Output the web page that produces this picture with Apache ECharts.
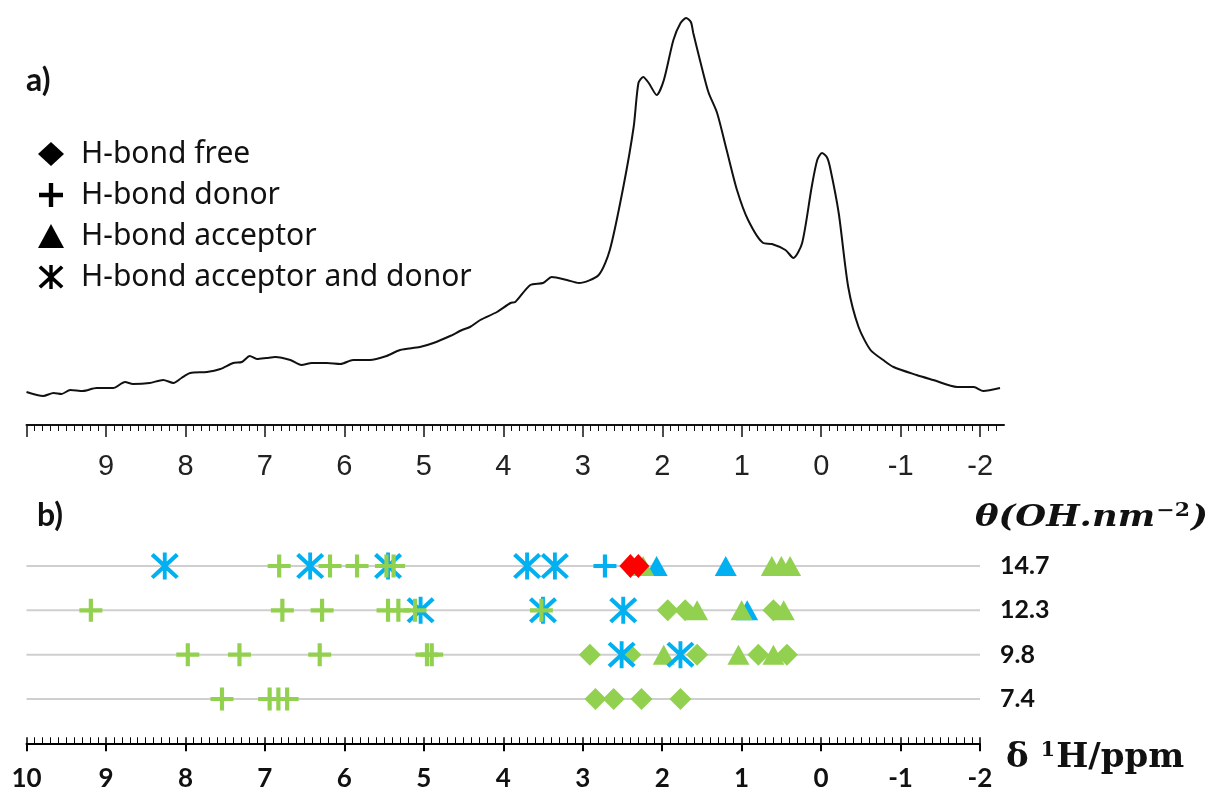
<!DOCTYPE html>
<html>
<head>
<meta charset="utf-8">
<script src="https://cdn.jsdelivr.net/npm/echarts@6/dist/echarts.min.js"></script>
<style>
  html, body { margin: 0; padding: 0; background: #ffffff; }
  #chart { width: 1220px; height: 798px; }
</style>
</head>
<body>
<div id="chart"></div>
<script>
// ---- a) 1H MAS NMR spectrum: chemical shift (ppm) and intensity ----
const spectrumPpm = [
  10.00, 9.79, 9.66, 9.56, 9.45, 9.29, 9.12, 8.91, 8.76, 8.66, 8.45, 8.28, 8.15, 8.05,
  7.94, 7.73, 7.56, 7.40, 7.29, 7.19, 7.10, 6.98, 6.87, 6.68, 6.54, 6.41, 6.22, 6.05,
  5.89, 5.68, 5.47, 5.30, 5.05, 4.88, 4.67, 4.52, 4.42, 4.29, 4.08, 3.91, 3.85, 3.66,
  3.50, 3.39, 3.20, 3.05, 2.80, 2.66, 2.49, 2.36, 2.30, 2.24, 2.17, 2.07, 1.98, 1.86,
  1.77, 1.70, 1.64, 1.61, 1.52, 1.42, 1.31, 1.19, 1.06, 0.92, 0.73, 0.62, 0.45, 0.35,
  0.24, 0.12, 0.05, -0.01, -0.07, -0.11, -0.22, -0.34, -0.47, -0.62, -0.78, -0.91,
  -1.20, -1.41, -1.71, -1.92, -2.04, -2.25
];
const spectrumIntensity = [
  33, 29, 32, 31, 35, 34, 37, 37, 43, 41, 42, 45, 42, 47,
  52, 53, 56, 62, 63, 69, 66, 67, 68, 65, 60, 62, 62, 61,
  65, 65, 69, 75, 78, 82, 89, 95, 98, 105, 113, 122, 123, 140,
  142, 148, 145, 142, 150, 175, 238, 298, 342, 348, 342, 330, 345, 385,
  402, 407, 403, 392, 363, 333, 312, 275, 235, 205, 182, 181, 175, 167,
  182, 238, 265, 272, 268, 258, 212, 138, 98, 75, 65, 58,
  50, 45, 38, 38, 34, 37
];

// ---- b) computed shifts per OH coverage (rows listed bottom to top) ----
const thetaLabels = ['7.4', '9.8', '12.3', '14.7'];
const greenFree     = [[2.84, 2.61, 2.26, 1.77], [2.91, 2.40, 1.56, 0.79, 0.43], [1.93, 1.71, 0.60], []];
const redFree       = [[], [], [], [2.40, 2.30]];
const greenDonor    = [[7.54, 6.94, 6.83, 6.72], [7.97, 7.32, 6.31, 4.96, 4.90],
                       [9.19, 6.78, 6.28, 5.45, 5.32, 5.11, 3.52], [6.82, 6.18, 5.84, 5.47, 5.38]];
const blueDonor     = [[], [], [], [2.72]];
const greenAcceptor = [[], [1.98, 1.04, 0.60], [1.56, 1.00, 0.47], [2.24, 0.62, 0.50, 0.39]];
const blueAcceptor  = [[], [], [0.93], [2.07, 1.20]];
const blueBoth      = [[], [2.51, 1.77], [5.04, 3.50, 2.49], [8.26, 6.43, 5.45, 3.70, 3.35]];

// axis ticks / labels
const topTickValues  = [10, 9, 8, 7, 6, 5, 4, 3, 2, 1, 0, -1, -2];
const topLabelValues = [9, 8, 7, 6, 5, 4, 3, 2, 1, 0, -1, -2];
const legendNames = ['H-bond free', 'H-bond donor', 'H-bond acceptor', 'H-bond acceptor and donor'];

// ---- marker shapes ----
const PLUS  = 'path://M9,0h4v9h9v4h-9v9h-4v-9h-9v-4h9z';
const ASTER = 'path://M12.5,0h4v28h-4z M3,0.5L29,24.5L26,27.5L0,3.5z M26,0.5L29,3.5L3,27.5L0,24.5z';
const GREEN = '#92d050';
const BLUE  = '#00b0f0';
const RED   = '#ff0000';

function toPoints(rows) {
  const pts = [];
  rows.forEach(function (vals, r) {
    vals.forEach(function (v) { pts.push([v, r + 1]); });
  });
  return pts;
}

function markSeries(name, rows, symbol, size, color) {
  return {
    name: name, type: 'scatter', xAxisIndex: 1, yAxisIndex: 1,
    symbol: symbol, symbolSize: size, z: 3, silent: true,
    itemStyle: { color: color, opacity: 1 },
    data: toPoints(rows)
  };
}

const spectrumData = spectrumPpm.map(function (p, i) { return [p, spectrumIntensity[i]]; });

// horizontal guide line for each coverage row
const rowLineSeries = thetaLabels.map(function (lab, i) {
  return {
    name: 'row ' + lab, type: 'line', xAxisIndex: 1, yAxisIndex: 1,
    symbol: 'none', silent: true, z: 1,
    lineStyle: { color: '#cfcfcf', width: 2 },
    data: [[10, i + 1], [-2, i + 1]]
  };
});

// empty black series that only feed the legend
const legendIcons = ['diamond', PLUS, 'triangle', ASTER];
const legendSeries = legendNames.map(function (n, i) {
  return { name: n, type: 'scatter', xAxisIndex: 1, yAxisIndex: 1,
           symbol: legendIcons[i], itemStyle: { color: '#000' }, data: [] };
});

const chart = echarts.init(document.getElementById('chart'), null, { renderer: 'canvas' });

const option = {
  backgroundColor: '#ffffff',
  animation: false,
  grid: [
    { left: 26.5, width: 977.5, top: 10, height: 415 },
    { left: 26.5, width: 953.5, top: 521.7, height: 221.6 }
  ],
  xAxis: [
    { // spectrum axis
      gridIndex: 0, type: 'value', position: 'bottom', inverse: true, min: -2.3, max: 10,
      splitNumber: 12, minInterval: 1, maxInterval: 1,
      axisLine: { show: true, lineStyle: { color: '#111', width: 2 } },
      axisTick: { show: true, inside: false, length: 12, customValues: topTickValues,
                  lineStyle: { color: '#111', width: 1.5 } },
      minorTick: { show: true, splitNumber: 10, length: 6, lineStyle: { color: '#111', width: 1 } },
      axisLabel: { show: true, customValues: topLabelValues, margin: 27,
                   fontFamily: 'Liberation Sans', fontSize: 29, color: '#222' },
      splitLine: { show: false }, minorSplitLine: { show: false }
    },
    { // coverage panel axis: line + inner ticks
      gridIndex: 1, type: 'value', position: 'bottom', offset: 0,
      inverse: true, min: -2, max: 10, interval: 1,
      axisLine: { show: true, onZero: false, lineStyle: { color: '#000', width: 2 } },
      axisTick: { show: true, inside: true, length: 6, lineStyle: { color: '#000', width: 1.5 } },
      minorTick: { show: true, splitNumber: 10, length: 6, lineStyle: { color: '#000', width: 1 } },
      axisLabel: { show: false },
      splitLine: { show: false }
    },
    { // coverage panel axis: outer major ticks + labels
      gridIndex: 1, type: 'value', position: 'bottom', offset: 0,
      inverse: true, min: -2, max: 10, interval: 1,
      axisLine: { show: false, onZero: false },
      axisTick: { show: true, inside: false, length: 8, lineStyle: { color: '#000', width: 2 } },
      axisLabel: { show: true, margin: 22, fontFamily: 'Lato', fontWeight: 'bold',
                   fontSize: 26, color: '#111' },
      splitLine: { show: false }
    }
  ],
  yAxis: [
    { gridIndex: 0, type: 'value', min: 0, max: 415, show: false },
    { gridIndex: 1, type: 'value', min: 0, max: 5, interval: 1, position: 'right',
      axisLine: { show: false }, axisTick: { show: false }, splitLine: { show: false },
      axisLabel: { show: true, margin: 20, fontFamily: 'Lato', fontWeight: 'bold',
                   fontSize: 25, color: '#111',
                   formatter: function (v) { return thetaLabels[v - 1] || ''; } } }
  ],
  legend: {
    show: true, orient: 'vertical', left: 33, top: 134,
    itemWidth: 26, itemHeight: 24, itemGap: 11, selectedMode: false,
    itemStyle: { color: '#000', opacity: 1 },
    textStyle: { fontFamily: 'Noto Sans', fontSize: 30, color: '#111', padding: [0, 0, 0, 12] },
    data: legendNames.map(function (n, i) {
      return { name: n, icon: legendIcons[i], itemStyle: { color: '#000', opacity: 1 } };
    })
  },
  graphic: [
    { type: 'text', left: 26, top: 65,
      style: { text: 'a)', fontFamily: 'Lato', fontWeight: 'bold', fontSize: 32, fill: '#111' } },
    { type: 'text', left: 37, top: 500,
      style: { text: 'b)', fontFamily: 'Lato', fontWeight: 'bold', fontSize: 32, fill: '#111' } },
    { type: 'text', left: 975, top: 502, scaleX: 1.22,
      style: {
        text: '{m|θ(OH.nm}{s|−2}{m|)}',
        rich: {
          m: { fontFamily: 'DejaVu Serif', fontStyle: 'italic', fontWeight: 'bold', fontSize: 29, fill: '#111' },
          s: { fontFamily: 'DejaVu Serif', fontWeight: 'bold', fontSize: 18, fill: '#111', padding: [0, 1, 14, 1] }
        }
      } },
    { type: 'text', left: 1006, top: 740,
      style: {
        text: '{m|δ }{s|1}{m|H/ppm}',
        rich: {
          m: { fontFamily: 'DejaVu Serif', fontWeight: 'bold', fontSize: 34, fill: '#111' },
          s: { fontFamily: 'DejaVu Serif', fontWeight: 'bold', fontSize: 21, fill: '#111', padding: [0, 1, 15, 0] }
        }
      } }
  ],
  series: [
    {
      name: 'spectrum', type: 'line', xAxisIndex: 0, yAxisIndex: 0,
      data: spectrumData, showSymbol: false, smooth: 0.25, silent: true,
      lineStyle: { color: '#111', width: 2 }
    }
  ].concat(rowLineSeries, legendSeries, [
    markSeries('acceptor-blue',  blueAcceptor,  'triangle', [22, 20], BLUE),
    markSeries('acceptor-green', greenAcceptor, 'triangle', [22, 20], GREEN),
    markSeries('free-green',     greenFree,     'diamond',  [22, 22], GREEN),
    markSeries('free-red',       redFree,       'diamond',  [22, 24], RED),
    markSeries('both-blue',      blueBoth,      ASTER,      [28, 27], BLUE),
    markSeries('donor-blue',     blueDonor,     PLUS,       [23, 23], BLUE),
    markSeries('donor-green',    greenDonor,    PLUS,       [23, 23], GREEN)
  ])
};

chart.setOption(option);
</script>
</body>
</html>
